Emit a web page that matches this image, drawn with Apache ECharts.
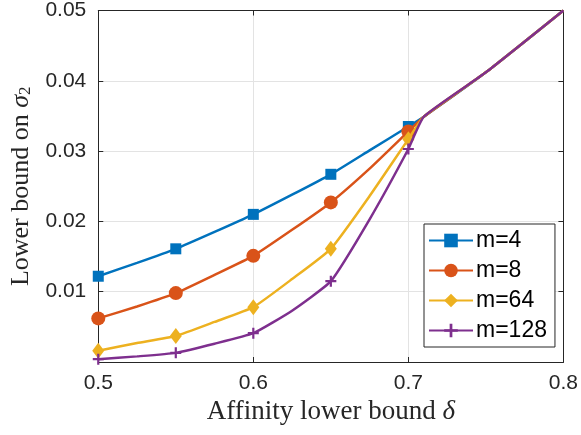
<!DOCTYPE html>
<html><head><meta charset="utf-8">
<script src="https://cdn.jsdelivr.net/npm/echarts@6/dist/echarts.min.js"></script>
<style>html,body{margin:0;padding:0;background:#fff}#c{width:581px;height:435px}</style>
</head><body><div id="c"></div>
<script>
// x positions of the curve samples (markers at 0.5, 0.55, ..., 0.7)
const xValues = [0.5, 0.525, 0.55, 0.575, 0.6, 0.625, 0.65, 0.675, 0.7];
const markerX = [0.5, 0.55, 0.6, 0.65, 0.7];
const m4 = [0.0122, 0.0141, 0.0161, 0.0185, 0.0210, 0.0238, 0.0267, 0.0301, 0.0335];
const m8 = [0.0062, 0.0079, 0.0098, 0.0124, 0.0151, 0.0188, 0.0227, 0.0275, 0.0328];
const m64 = [0.0016, 0.0027, 0.0037, 0.0057, 0.0078, 0.0118, 0.0161, 0.0236, 0.0317];
const m128 = [0.0004, 0.0008, 0.0013, 0.0026, 0.0041, 0.0073, 0.0115, 0.0203, 0.0303];
// common part after the curves meet
const xTail = [0.71, 0.75, 0.8];
const yTail = [0.0349, 0.0412, 0.05];
const seriesNames = ['m=4', 'm=8', 'm=64', 'm=128'];
const colors = ['#0072BD', '#D95319', '#EDB120', '#7E2F8E'];
const symbols = ['rect', 'circle', 'diamond', 'path://M4,0h2v4h4v2h-4v4h-2v-4h-4v-2h4z'];
const symbolSizes = [11, 14, [12, 16], 11];

const allY = [m4, m8, m64, m128];
const textColor = '#262626';

function buildData(ys) {
  const d = xValues.map((x, i) => markerX.includes(x) ? [x, ys[i]] : { value: [x, ys[i]], symbol: 'none' });
  xTail.forEach((x, i) => d.push({ value: [x, yTail[i]], symbol: 'none' }));
  return d;
}

const series = seriesNames.map((n, k) => ({
  name: n, type: 'line', data: buildData(allY[k]),
  smooth: 0.15,
  symbol: symbols[k], symbolSize: symbolSizes[k], showAllSymbol: true,
  lineStyle: { color: colors[k], width: 2.5 },
  itemStyle: { color: colors[k], borderWidth: 0 },
  z: 2 + k
}));

const chart = echarts.init(document.getElementById('c'));
chart.setOption({
  animation: false,
  backgroundColor: '#fff',
  grid: { left: 97, right: 17, top: 5, bottom: 73 },
  xAxis: [{
    type: 'value', min: 0.5, max: 0.8, interval: 0.1,
    name: 'Affinity lower bound {i|δ}', nameLocation: 'middle', nameGap: 30,
    nameTextStyle: { fontFamily: 'Liberation Serif', fontSize: 27, color: textColor,
      rich: { i: { fontFamily: 'Liberation Serif', fontStyle: 'italic', fontSize: 27, color: textColor } } },
    axisLine: { lineStyle: { color: textColor, width: 1 } },
    axisTick: { inside: true, length: 5, lineStyle: { color: textColor } },
    axisLabel: { fontFamily: 'Liberation Sans', fontSize: 21, color: textColor, margin: 11,
      formatter: v => v.toFixed(1) },
    splitLine: { show: true, lineStyle: { color: '#e3e3e3', width: 1 } }
  }, {
    type: 'value', position: 'top', min: 0.5, max: 0.8, interval: 0.1,
    axisLine: { show: true, onZero: false, lineStyle: { color: textColor, width: 1 } },
    axisTick: { inside: true, length: 5, lineStyle: { color: textColor } },
    axisLabel: { show: false }, splitLine: { show: false }
  }],
  yAxis: [{
    type: 'value', min: 0, max: 0.05, interval: 0.01,
    name: '{t|Lower bound on }{i|σ}{s|2}', nameLocation: 'middle', nameGap: 62, nameRotate: 90,
    nameTextStyle: { fontFamily: 'Liberation Serif', fontSize: 26, color: textColor,
      rich: {
        t: { fontFamily: 'Liberation Serif', fontSize: 26, color: textColor },
        i: { fontFamily: 'Liberation Serif', fontStyle: 'italic', fontSize: 26, color: textColor },
        s: { fontFamily: 'Liberation Serif', fontSize: 17, color: textColor, padding: [10, 0, 0, 0] }
      } },
    axisLine: { show: true, lineStyle: { color: textColor, width: 1 } },
    axisTick: { show: true, inside: true, length: 5, lineStyle: { color: textColor } },
    axisLabel: { fontFamily: 'Liberation Sans', fontSize: 21, color: textColor, margin: 12,
      formatter: v => (v < 1e-9 ? '' : v.toFixed(2)) },
    splitLine: { show: true, lineStyle: { color: '#e3e3e3', width: 1 } }
  }, {
    type: 'value', position: 'right', min: 0, max: 0.05, interval: 0.01,
    axisLine: { show: true, onZero: false, lineStyle: { color: textColor, width: 1 } },
    axisTick: { show: true, inside: true, length: 5, lineStyle: { color: textColor } },
    axisLabel: { show: false }, splitLine: { show: false }
  }],
  legend: {
    orient: 'vertical', left: 424, top: 224,
    padding: [5, 8, 5, 4], itemGap: 7, itemWidth: 44, itemHeight: 17,
    backgroundColor: '#fff', borderColor: '#262626', borderWidth: 1, borderRadius: 0,
    textStyle: { fontFamily: 'Liberation Sans', fontSize: 23, color: '#000', padding: [0, 0, 0, -2] },
    data: seriesNames
  },
  series: series
});
</script></body></html>
